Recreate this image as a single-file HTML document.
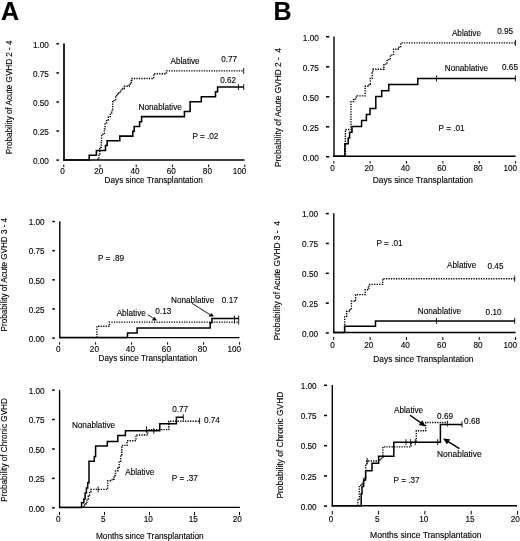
<!DOCTYPE html>
<html><head><meta charset="utf-8"><style>
html,body{margin:0;padding:0;background:#fff;}
svg{display:block;filter:grayscale(1) blur(0.35px);}
text{font-family:"Liberation Sans", sans-serif;fill:#000;stroke:#000;stroke-width:0.12px;}
</style></head><body>
<svg width="520" height="541" viewBox="0 0 520 541">
<rect width="520" height="541" fill="#fff"/>
<text x="1.0" y="19.5" font-size="25" font-weight="bold">A</text>
<text x="273.6" y="19.5" font-size="25" font-weight="bold">B</text>
<line x1="64" y1="43.5" x2="64" y2="160.85" stroke="#000" stroke-width="1.7"/>
<line x1="63.15" y1="160" x2="244.5" y2="160" stroke="#000" stroke-width="1.7"/>
<line x1="56.4" y1="43.8" x2="58.9" y2="43.8" stroke="#000" stroke-width="1.5"/>
<text x="48.9" y="47.52" font-size="8.2" text-anchor="end">1.00</text>
<line x1="56.4" y1="72.875" x2="58.9" y2="72.875" stroke="#000" stroke-width="1.5"/>
<text x="48.9" y="76.60" font-size="8.2" text-anchor="end">0.75</text>
<line x1="56.4" y1="101.95" x2="58.9" y2="101.95" stroke="#000" stroke-width="1.5"/>
<text x="48.9" y="105.67" font-size="8.2" text-anchor="end">0.50</text>
<line x1="56.4" y1="131.025" x2="58.9" y2="131.025" stroke="#000" stroke-width="1.5"/>
<text x="48.9" y="134.75" font-size="8.2" text-anchor="end">0.25</text>
<line x1="56.4" y1="160.10000000000002" x2="58.9" y2="160.10000000000002" stroke="#000" stroke-width="1.5"/>
<text x="48.9" y="163.82" font-size="8.2" text-anchor="end">0.00</text>
<line x1="63.8" y1="164.5" x2="63.8" y2="167.2" stroke="#000" stroke-width="1.0"/>
<text x="62.599999999999994" y="174.22" font-size="8.2" text-anchor="middle">0</text>
<line x1="100.0" y1="164.5" x2="100.0" y2="167.2" stroke="#000" stroke-width="1.0"/>
<text x="98.8" y="174.22" font-size="8.2" text-anchor="middle">20</text>
<line x1="136.2" y1="164.5" x2="136.2" y2="167.2" stroke="#000" stroke-width="1.0"/>
<text x="135.0" y="174.22" font-size="8.2" text-anchor="middle">40</text>
<line x1="172.4" y1="164.5" x2="172.4" y2="167.2" stroke="#000" stroke-width="1.0"/>
<text x="171.20000000000002" y="174.22" font-size="8.2" text-anchor="middle">60</text>
<line x1="208.60000000000002" y1="164.5" x2="208.60000000000002" y2="167.2" stroke="#000" stroke-width="1.0"/>
<text x="207.40000000000003" y="174.22" font-size="8.2" text-anchor="middle">80</text>
<line x1="244.8" y1="164.5" x2="244.8" y2="167.2" stroke="#000" stroke-width="1.0"/>
<text x="239.5" y="174.22" font-size="8.2" text-anchor="middle">100</text>
<text x="104.6" y="183.12" font-size="8.2" text-anchor="start" textLength="98.2" lengthAdjust="spacingAndGlyphs">Days since Transplantation</text>
<text transform="translate(11.7 154.2) rotate(-90)" x="0" y="0" font-size="8.2" textLength="113.8" lengthAdjust="spacingAndGlyphs">Probability of Acute GVHD 2 - 4</text>
<text x="192.4" y="138.62" font-size="8.2" text-anchor="start">P = .02</text>
<text x="170.5" y="64.32" font-size="8.2" text-anchor="start">Ablative</text>
<text x="221.2" y="61.52" font-size="8.2" text-anchor="start">0.77</text>
<text x="220.2" y="83.12" font-size="8.2" text-anchor="start">0.62</text>
<text x="138.6" y="110.12" font-size="8.2" text-anchor="start">Nonablative</text>
<path d="M64,160 H89.2 V155.2 H96.4 V150.4 H105.5 V145.5 H107.1 V140.7 H119.8 V136.1 H132.8 V131.3 H134.2 V126.4 H139.6 V121.7 H141.6 V116.6 H184.4 V111.5 H190.1 V101.8 H201.3 V96.7 H215.5 V91.8 H217.6 V87.0 H243.7 V87.0" fill="none" stroke="#000" stroke-width="1.55"/>
<line x1="238.4" y1="84.0" x2="238.4" y2="90.0" stroke="#000" stroke-width="0.9"/>
<line x1="243.7" y1="84.0" x2="243.7" y2="90.0" stroke="#000" stroke-width="0.9"/>
<path d="M97.9,160 H97.9 V159.3 H98.9 V153.8 H99.8 V147.3 H101.2 V140.9 H101.6 V134.4 H104.4 V128.9 H105.1 V122.9 H106.7 V119.7 H108.3 V116.6 H110.4 V112.9 H112 V110.2 H112.7 V101.7 H114.1 V99.6 H115.7 V97 H116.7 V94.3 H118.9 V92.8 H120.4 V90.1 H122.6 V88.5 H124.2 V86.2 H129.2 V85.2 H130.2 V82.5 H131.2 V80.5 H132.1 V78.5 H153.7 V73.8 H166.4 V70.9 H243.7 V70.9" fill="none" stroke="#000" stroke-width="1.4" stroke-dasharray="1.3 1.2"/>
<line x1="243.7" y1="67.9" x2="243.7" y2="73.9" stroke="#000" stroke-width="0.9"/>
<line x1="334" y1="36.5" x2="334" y2="157.0" stroke="#000" stroke-width="1.4"/>
<line x1="333.3" y1="156.3" x2="515.6" y2="156.3" stroke="#000" stroke-width="1.4"/>
<line x1="326" y1="36.8" x2="329.3" y2="36.8" stroke="#000" stroke-width="1.5"/>
<text x="318.8" y="40.52" font-size="8.2" text-anchor="end">1.00</text>
<line x1="326" y1="66.8" x2="329.3" y2="66.8" stroke="#000" stroke-width="1.5"/>
<text x="318.8" y="70.52" font-size="8.2" text-anchor="end">0.75</text>
<line x1="326" y1="96.8" x2="329.3" y2="96.8" stroke="#000" stroke-width="1.5"/>
<text x="318.8" y="100.52" font-size="8.2" text-anchor="end">0.50</text>
<line x1="326" y1="126.8" x2="329.3" y2="126.8" stroke="#000" stroke-width="1.5"/>
<text x="318.8" y="130.52" font-size="8.2" text-anchor="end">0.25</text>
<line x1="326" y1="156.8" x2="329.3" y2="156.8" stroke="#000" stroke-width="1.5"/>
<text x="318.8" y="160.52" font-size="8.2" text-anchor="end">0.00</text>
<line x1="333.8" y1="161.0" x2="333.8" y2="163.5" stroke="#000" stroke-width="1.0"/>
<text x="332.6" y="171.12" font-size="8.2" text-anchor="middle">0</text>
<line x1="370.16" y1="161.0" x2="370.16" y2="163.5" stroke="#000" stroke-width="1.0"/>
<text x="368.96000000000004" y="171.12" font-size="8.2" text-anchor="middle">20</text>
<line x1="406.52" y1="161.0" x2="406.52" y2="163.5" stroke="#000" stroke-width="1.0"/>
<text x="405.32" y="171.12" font-size="8.2" text-anchor="middle">40</text>
<line x1="442.88" y1="161.0" x2="442.88" y2="163.5" stroke="#000" stroke-width="1.0"/>
<text x="441.68" y="171.12" font-size="8.2" text-anchor="middle">60</text>
<line x1="479.24" y1="161.0" x2="479.24" y2="163.5" stroke="#000" stroke-width="1.0"/>
<text x="478.04" y="171.12" font-size="8.2" text-anchor="middle">80</text>
<line x1="515.6" y1="161.0" x2="515.6" y2="163.5" stroke="#000" stroke-width="1.0"/>
<text x="510.3" y="171.12" font-size="8.2" text-anchor="middle">100</text>
<text x="372.8" y="182.52" font-size="8.2" text-anchor="start" textLength="100.2" lengthAdjust="spacingAndGlyphs">Days since Transplantation</text>
<text transform="translate(281.1 167.0) rotate(-90)" x="0" y="0" font-size="8.2" textLength="119" lengthAdjust="spacingAndGlyphs">Probability of Acute GVHD 2 -&#160; 4</text>
<text x="438.6" y="131.32" font-size="8.2" text-anchor="start">P = .01</text>
<text x="451.9" y="35.52" font-size="8.2" text-anchor="start">Ablative</text>
<text x="497.2" y="34.32" font-size="8.2" text-anchor="start">0.95</text>
<text x="444.8" y="70.62" font-size="8.2" text-anchor="start">Nonablative</text>
<text x="502.0" y="70.12" font-size="8.2" text-anchor="start">0.65</text>
<path d="M334,156.3 H344.8 V143.7 H348.2 V137.9 H349.6 V132.3 H352 V126.5 H361.6 V120.5 H366.4 V114.6 H370 V108.5 H375.8 V96.5 H381.7 V90.7 H388.8 V84.5 H417.8 V78.4 H515.4 V78.4" fill="none" stroke="#000" stroke-width="1.5"/>
<line x1="436.5" y1="75.4" x2="436.5" y2="81.4" stroke="#000" stroke-width="0.9"/>
<line x1="515.4" y1="75.4" x2="515.4" y2="81.4" stroke="#000" stroke-width="0.9"/>
<path d="M344.8,156.3 H345.4 V129.5 H351 V101.6 H353.5 V99.7 H355.5 V97.1 H357.3 V95.9 H365.1 V86.2 H369 V84.2 H370.3 V78.4 H372.2 V72.6 H372.8 V69.2 H383.9 V64.1 H387.1 V59.6 H390.3 V55.1 H393.6 V49.2 H398.1 V47.3 H400.7 V42.9 H515.4 V42.9" fill="none" stroke="#000" stroke-width="1.4" stroke-dasharray="1.3 1.2"/>
<line x1="515.4" y1="39.9" x2="515.4" y2="45.9" stroke="#000" stroke-width="0.9"/>
<line x1="59.8" y1="221.2" x2="59.8" y2="338.3" stroke="#000" stroke-width="1.4"/>
<line x1="59.099999999999994" y1="337.6" x2="239.5" y2="337.6" stroke="#000" stroke-width="1.4"/>
<line x1="52.3" y1="221.5" x2="54.9" y2="221.5" stroke="#000" stroke-width="1.5"/>
<text x="44.6" y="225.22" font-size="8.2" text-anchor="end">1.00</text>
<line x1="52.3" y1="250.65" x2="54.9" y2="250.65" stroke="#000" stroke-width="1.5"/>
<text x="44.6" y="254.37" font-size="8.2" text-anchor="end">0.75</text>
<line x1="52.3" y1="279.8" x2="54.9" y2="279.8" stroke="#000" stroke-width="1.5"/>
<text x="44.6" y="283.52" font-size="8.2" text-anchor="end">0.50</text>
<line x1="52.3" y1="308.95" x2="54.9" y2="308.95" stroke="#000" stroke-width="1.5"/>
<text x="44.6" y="312.67" font-size="8.2" text-anchor="end">0.25</text>
<line x1="52.3" y1="338.09999999999997" x2="54.9" y2="338.09999999999997" stroke="#000" stroke-width="1.5"/>
<text x="44.6" y="341.82" font-size="8.2" text-anchor="end">0.00</text>
<line x1="59.6" y1="342.2" x2="59.6" y2="344.7" stroke="#000" stroke-width="1.0"/>
<text x="58.4" y="351.82" font-size="8.2" text-anchor="middle">0</text>
<line x1="95.6" y1="342.2" x2="95.6" y2="344.7" stroke="#000" stroke-width="1.0"/>
<text x="94.39999999999999" y="351.82" font-size="8.2" text-anchor="middle">20</text>
<line x1="131.6" y1="342.2" x2="131.6" y2="344.7" stroke="#000" stroke-width="1.0"/>
<text x="130.4" y="351.82" font-size="8.2" text-anchor="middle">40</text>
<line x1="167.6" y1="342.2" x2="167.6" y2="344.7" stroke="#000" stroke-width="1.0"/>
<text x="166.4" y="351.82" font-size="8.2" text-anchor="middle">60</text>
<line x1="203.6" y1="342.2" x2="203.6" y2="344.7" stroke="#000" stroke-width="1.0"/>
<text x="202.4" y="351.82" font-size="8.2" text-anchor="middle">80</text>
<line x1="239.6" y1="342.2" x2="239.6" y2="344.7" stroke="#000" stroke-width="1.0"/>
<text x="234.29999999999998" y="351.82" font-size="8.2" text-anchor="middle">100</text>
<text x="98.6" y="360.82" font-size="8.2" text-anchor="start" textLength="98.7" lengthAdjust="spacingAndGlyphs">Days since Transplantation</text>
<text transform="translate(7.3 331.4) rotate(-90)" x="0" y="0" font-size="8.2" textLength="113.5" lengthAdjust="spacingAndGlyphs">Probability of Acute GVHD 3 - 4</text>
<text x="98.0" y="261.12" font-size="8.2" text-anchor="start">P = .89</text>
<text x="145.8" y="315.52" font-size="8.2" text-anchor="end">Ablative</text>
<text x="155.3" y="314.32" font-size="8.2" text-anchor="start">0.13</text>
<text x="171.0" y="303.02" font-size="8.2" text-anchor="start">Nonablative</text>
<text x="221.8" y="303.02" font-size="8.2" text-anchor="start">0.17</text>
<line x1="147.8" y1="314.6" x2="153.2" y2="318.2" stroke="#000" stroke-width="0.9"/>
<path d="M154.4,317.0 L156.5,320.2 L152.3,320.2 Z" fill="#000" stroke="#000" stroke-width="0.4" stroke-linejoin="round"/>
<line x1="192.0" y1="303.4" x2="210.6" y2="315.0" stroke="#000" stroke-width="0.9"/>
<path d="M211.4,313.2 L213.6,316.3 L209.20000000000002,316.3 Z" fill="#000" stroke="#000" stroke-width="0.4" stroke-linejoin="round"/>
<path d="M59.8,337.6 H127.5 V332.9 H137.1 V328.0 H210.2 V322.7 H211.9 V318.4 H238.7 V318.4" fill="none" stroke="#000" stroke-width="1.5"/>
<line x1="234.4" y1="315.6" x2="234.4" y2="323.6" stroke="#000" stroke-width="0.9"/>
<line x1="238.7" y1="315.5" x2="238.7" y2="324.5" stroke="#000" stroke-width="0.9"/>
<path d="M96.9,337.6 H96.9 V326.3 H109.4 V322.1 H238.7 V322.1" fill="none" stroke="#000" stroke-width="1.4" stroke-dasharray="1.3 1.2"/>
<line x1="333.8" y1="213.3" x2="333.8" y2="333.2" stroke="#000" stroke-width="1.4"/>
<line x1="333.1" y1="332.5" x2="515.6" y2="332.5" stroke="#000" stroke-width="1.4"/>
<line x1="325.8" y1="213.60000000000002" x2="328.8" y2="213.60000000000002" stroke="#000" stroke-width="1.5"/>
<text x="318.0" y="217.32" font-size="8.2" text-anchor="end">1.00</text>
<line x1="325.8" y1="243.45000000000002" x2="328.8" y2="243.45000000000002" stroke="#000" stroke-width="1.5"/>
<text x="318.0" y="247.17" font-size="8.2" text-anchor="end">0.75</text>
<line x1="325.8" y1="273.3" x2="328.8" y2="273.3" stroke="#000" stroke-width="1.5"/>
<text x="318.0" y="277.02" font-size="8.2" text-anchor="end">0.50</text>
<line x1="325.8" y1="303.15000000000003" x2="328.8" y2="303.15000000000003" stroke="#000" stroke-width="1.5"/>
<text x="318.0" y="306.87" font-size="8.2" text-anchor="end">0.25</text>
<line x1="325.8" y1="333.00000000000006" x2="328.8" y2="333.00000000000006" stroke="#000" stroke-width="1.5"/>
<text x="318.0" y="336.72" font-size="8.2" text-anchor="end">0.00</text>
<line x1="333.7" y1="336.9" x2="333.7" y2="340" stroke="#000" stroke-width="1.0"/>
<text x="332.5" y="347.62" font-size="8.2" text-anchor="middle">0</text>
<line x1="370.08" y1="336.9" x2="370.08" y2="340" stroke="#000" stroke-width="1.0"/>
<text x="368.88" y="347.62" font-size="8.2" text-anchor="middle">20</text>
<line x1="406.46" y1="336.9" x2="406.46" y2="340" stroke="#000" stroke-width="1.0"/>
<text x="405.26" y="347.62" font-size="8.2" text-anchor="middle">40</text>
<line x1="442.84000000000003" y1="336.9" x2="442.84000000000003" y2="340" stroke="#000" stroke-width="1.0"/>
<text x="441.64000000000004" y="347.62" font-size="8.2" text-anchor="middle">60</text>
<line x1="479.22" y1="336.9" x2="479.22" y2="340" stroke="#000" stroke-width="1.0"/>
<text x="478.02000000000004" y="347.62" font-size="8.2" text-anchor="middle">80</text>
<line x1="515.6" y1="336.9" x2="515.6" y2="340" stroke="#000" stroke-width="1.0"/>
<text x="510.3" y="347.62" font-size="8.2" text-anchor="middle">100</text>
<text x="373.3" y="361.52" font-size="8.2" text-anchor="start" textLength="100.2" lengthAdjust="spacingAndGlyphs">Days since Transplantation</text>
<text transform="translate(279.6 340.2) rotate(-90)" x="0" y="0" font-size="8.2" textLength="119" lengthAdjust="spacingAndGlyphs">Probability of Acute GVHD 3 -&#160; 4</text>
<text x="376.5" y="245.82" font-size="8.2" text-anchor="start">P = .01</text>
<text x="447.1" y="267.82" font-size="8.2" text-anchor="start">Ablative</text>
<text x="487.5" y="268.52" font-size="8.2" text-anchor="start">0.45</text>
<text x="417.8" y="314.02" font-size="8.2" text-anchor="start">Nonablative</text>
<text x="485.6" y="314.62" font-size="8.2" text-anchor="start">0.10</text>
<path d="M333.7,332.5 H344.6 V326.3 H375.5 V320.9 H514.7 V320.9" fill="none" stroke="#000" stroke-width="1.5"/>
<line x1="436.5" y1="317.9" x2="436.5" y2="323.9" stroke="#000" stroke-width="0.9"/>
<line x1="514.7" y1="317.9" x2="514.7" y2="323.9" stroke="#000" stroke-width="0.9"/>
<path d="M344.7,332.5 H344.7 V316.9 H346.6 V311.5 H349 V309.7 H351.4 V301.3 H355.6 V294.6 H365.2 V289.8 H368.3 V288 H368.9 V284.4 H382.7 V278.7 H514.7 V278.7" fill="none" stroke="#000" stroke-width="1.4" stroke-dasharray="1.3 1.2"/>
<line x1="514.7" y1="275.7" x2="514.7" y2="281.7" stroke="#000" stroke-width="0.9"/>
<line x1="59.6" y1="389.8" x2="59.6" y2="508.09999999999997" stroke="#000" stroke-width="1.4"/>
<line x1="58.9" y1="507.4" x2="239.9" y2="507.4" stroke="#000" stroke-width="1.4"/>
<line x1="52.1" y1="390.1" x2="54.7" y2="390.1" stroke="#000" stroke-width="1.5"/>
<text x="44.6" y="393.82" font-size="8.2" text-anchor="end">1.00</text>
<line x1="52.1" y1="419.53000000000003" x2="54.7" y2="419.53000000000003" stroke="#000" stroke-width="1.5"/>
<text x="44.6" y="423.25" font-size="8.2" text-anchor="end">0.75</text>
<line x1="52.1" y1="448.96000000000004" x2="54.7" y2="448.96000000000004" stroke="#000" stroke-width="1.5"/>
<text x="44.6" y="452.68" font-size="8.2" text-anchor="end">0.50</text>
<line x1="52.1" y1="478.39000000000004" x2="54.7" y2="478.39000000000004" stroke="#000" stroke-width="1.5"/>
<text x="44.6" y="482.11" font-size="8.2" text-anchor="end">0.25</text>
<line x1="52.1" y1="507.82" x2="54.7" y2="507.82" stroke="#000" stroke-width="1.5"/>
<text x="44.6" y="511.54" font-size="8.2" text-anchor="end">0.00</text>
<line x1="59.5" y1="511.9" x2="59.5" y2="515.1" stroke="#000" stroke-width="1.0"/>
<text x="58.3" y="522.02" font-size="8.2" text-anchor="middle">0</text>
<line x1="104.5" y1="511.9" x2="104.5" y2="515.1" stroke="#000" stroke-width="1.0"/>
<text x="103.3" y="522.02" font-size="8.2" text-anchor="middle">5</text>
<line x1="149.5" y1="511.9" x2="149.5" y2="515.1" stroke="#000" stroke-width="1.0"/>
<text x="148.3" y="522.02" font-size="8.2" text-anchor="middle">10</text>
<line x1="194.5" y1="511.9" x2="194.5" y2="515.1" stroke="#000" stroke-width="1.0"/>
<text x="193.3" y="522.02" font-size="8.2" text-anchor="middle">15</text>
<line x1="239.5" y1="511.9" x2="239.5" y2="515.1" stroke="#000" stroke-width="1.0"/>
<text x="237.2" y="522.02" font-size="8.2" text-anchor="middle">20</text>
<text x="95.9" y="538.82" font-size="8.2" text-anchor="start" textLength="107.8" lengthAdjust="spacingAndGlyphs">Months since Transplantation</text>
<text transform="translate(7.4 501.7) rotate(-90)" x="0" y="0" font-size="8.2" textLength="103.6" lengthAdjust="spacingAndGlyphs">Probability of Chronic GVHD</text>
<text x="71.9" y="427.82" font-size="8.2" text-anchor="start">Nonablative</text>
<text x="125.2" y="475.12" font-size="8.2" text-anchor="start">Ablative</text>
<text x="171.8" y="481.02" font-size="8.2" text-anchor="start">P = .37</text>
<text x="172.2" y="412.32" font-size="8.2" text-anchor="start">0.77</text>
<text x="203.9" y="423.22" font-size="8.2" text-anchor="start">0.74</text>
<path d="M59.6,507.4 H81.6 V502.7 H83.8 V498.9 H85.1 V493 H86.4 V487.9 H87.7 V482.7 H89 V461.3 H94.3 V456.4 H95.6 V446.0 H107.3 V441.4 H117.8 V435.5 H125.4 V430.7 H159.8 V423.7 H176.4 V417.3 H183.3 V417.3" fill="none" stroke="#000" stroke-width="1.5"/>
<line x1="146.5" y1="426.25" x2="146.5" y2="432.75" stroke="#000" stroke-width="0.9"/>
<line x1="153.8" y1="428.25" x2="153.8" y2="433.75" stroke="#000" stroke-width="0.9"/>
<line x1="183.3" y1="414.3" x2="183.3" y2="420.3" stroke="#000" stroke-width="0.9"/>
<path d="M83.8,507.4 H83.8 V505 H85.8 V502.1 H87.1 V498.9 H88.3 V495.6 H89.6 V491.7 H90.9 V489.4 H107.7 V480.7 H111.1 V479.9 H113.3 V479.2 H114.1 V475.5 H115.5 V471 H117.8 V467.3 H119.2 V461.4 H120.7 V455.5 H121.8 V445.4 H127.1 V440.7 H136.0 V435.0 H147.7 V429.6 H168.8 V421.2 H200.1 V421.2" fill="none" stroke="#000" stroke-width="1.4" stroke-dasharray="1.3 1.2"/>
<line x1="98.1" y1="486.4" x2="98.1" y2="492.4" stroke="#000" stroke-width="0.9"/>
<line x1="199.6" y1="417.8" x2="199.6" y2="423.8" stroke="#000" stroke-width="0.9"/>
<line x1="332.3" y1="385" x2="332.3" y2="506.5" stroke="#000" stroke-width="1.4"/>
<line x1="331.6" y1="505.8" x2="517" y2="505.8" stroke="#000" stroke-width="1.4"/>
<line x1="324" y1="385.3" x2="327" y2="385.3" stroke="#000" stroke-width="1.5"/>
<text x="316.6" y="389.02" font-size="8.2" text-anchor="end">1.00</text>
<line x1="324" y1="415.5" x2="327" y2="415.5" stroke="#000" stroke-width="1.5"/>
<text x="316.6" y="419.22" font-size="8.2" text-anchor="end">0.75</text>
<line x1="324" y1="445.7" x2="327" y2="445.7" stroke="#000" stroke-width="1.5"/>
<text x="316.6" y="449.42" font-size="8.2" text-anchor="end">0.50</text>
<line x1="324" y1="475.90000000000003" x2="327" y2="475.90000000000003" stroke="#000" stroke-width="1.5"/>
<text x="316.6" y="479.62" font-size="8.2" text-anchor="end">0.25</text>
<line x1="324" y1="506.1" x2="327" y2="506.1" stroke="#000" stroke-width="1.5"/>
<text x="316.6" y="509.82" font-size="8.2" text-anchor="end">0.00</text>
<line x1="332.3" y1="510.9" x2="332.3" y2="514.5" stroke="#000" stroke-width="1.0"/>
<text x="331.1" y="521.62" font-size="8.2" text-anchor="middle">0</text>
<line x1="378.6" y1="510.9" x2="378.6" y2="514.5" stroke="#000" stroke-width="1.0"/>
<text x="377.40000000000003" y="521.62" font-size="8.2" text-anchor="middle">5</text>
<line x1="424.9" y1="510.9" x2="424.9" y2="514.5" stroke="#000" stroke-width="1.0"/>
<text x="423.7" y="521.62" font-size="8.2" text-anchor="middle">10</text>
<line x1="471.2" y1="510.9" x2="471.2" y2="514.5" stroke="#000" stroke-width="1.0"/>
<text x="470.0" y="521.62" font-size="8.2" text-anchor="middle">15</text>
<line x1="517.5" y1="510.9" x2="517.5" y2="514.5" stroke="#000" stroke-width="1.0"/>
<text x="515.2" y="521.62" font-size="8.2" text-anchor="middle">20</text>
<text x="370.0" y="538.42" font-size="8.2" text-anchor="start" textLength="111.5" lengthAdjust="spacingAndGlyphs">Months since Transplantation</text>
<text transform="translate(282.8 498.6) rotate(-90)" x="0" y="0" font-size="8.2" textLength="107" lengthAdjust="spacingAndGlyphs">Probability of Chronic GVHD</text>
<text x="393.6" y="483.42" font-size="8.2" text-anchor="start">P = .37</text>
<text x="394.0" y="413.32" font-size="8.2" text-anchor="start">Ablative</text>
<text x="437.1" y="419.02" font-size="8.2" text-anchor="start">0.69</text>
<text x="464.1" y="423.92" font-size="8.2" text-anchor="start">0.68</text>
<text x="437.0" y="456.72" font-size="8.2" text-anchor="start" textLength="44.6" lengthAdjust="spacingAndGlyphs">Nonablative</text>
<line x1="410.0" y1="415.2" x2="420.9050711482943" y2="422.93017701651235" stroke="#000" stroke-width="1.4"/>
<path d="M425.80,426.40 L418.76,425.09 L422.23,420.19 Z" fill="#000"/>
<line x1="459.5" y1="448.6" x2="448.1035674172762" y2="441.5549325852253" stroke="#000" stroke-width="1.4"/>
<path d="M443.00,438.40 L450.11,439.27 L446.95,444.37 Z" fill="#000"/>
<path d="M332.3,505.8 H361.2 V493.7 H362 V486.4 H363.6 V480 H365.6 V470.7 H372 V463.2 H378.6 V456.2 H393.8 V442.2 H440.4 V424.4 H462 V424.4" fill="none" stroke="#000" stroke-width="1.5"/>
<line x1="406" y1="439.2" x2="406" y2="445.2" stroke="#000" stroke-width="0.9"/>
<line x1="410.6" y1="439.2" x2="410.6" y2="445.2" stroke="#000" stroke-width="0.9"/>
<line x1="415.2" y1="439.2" x2="415.2" y2="445.2" stroke="#000" stroke-width="0.9"/>
<line x1="437.7" y1="439.2" x2="437.7" y2="445.2" stroke="#000" stroke-width="0.9"/>
<line x1="447.3" y1="420.5" x2="447.3" y2="426.5" stroke="#000" stroke-width="0.9"/>
<line x1="462" y1="421.4" x2="462" y2="427.4" stroke="#000" stroke-width="0.9"/>
<path d="M357.9,505.8 H357.9 V499 H359.4 V485.4 H362 V483 H363.8 V477.5 H365.7 V464.8 H366.7 V461 H380 V458.5 H382.9 V446.9 H411.2 V442.4 H416.3 V430.7 H425.7 V422.5 H446 V422.5" fill="none" stroke="#000" stroke-width="1.4" stroke-dasharray="1.3 1.2"/>
<line x1="367.2" y1="458.0" x2="367.2" y2="464.0" stroke="#000" stroke-width="0.9"/>
</svg>
</body></html>
